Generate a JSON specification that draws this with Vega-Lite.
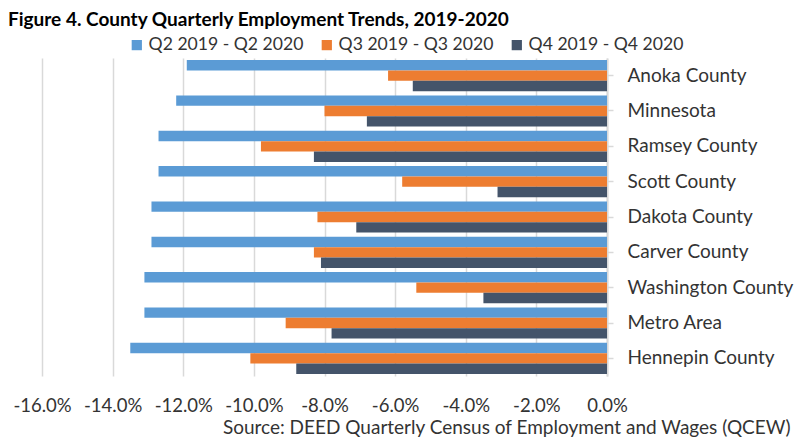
{
  "$schema": "https://vega.github.io/schema/vega-lite/v6.json",
  "width": 565,
  "height": 318,
  "autosize": {"type": "none"},
  "padding": {"left": 42, "top": 58, "right": 192, "bottom": 65},
  "background": "white",
  "config": {
    "locale": {"number": {"decimal": ".", "thousands": ",", "grouping": [3], "currency": ["$", ""], "minus": "-"}},
    "view": {"stroke": null},
    "font": "Lato"
  },
  "title": {
    "text": "Figure 4. County Quarterly Employment Trends, 2019-2020",
    "anchor": "start",
    "frame": "group",
    "dx": -34,
    "offset": -9,
    "baseline": "alphabetic",
    "font": "Lato",
    "fontSize": 19,
    "fontWeight": "bold",
    "color": "#000000"
  },
  "data": {
    "values": [
      {"area": "Anoka County", "period": "Q2 2019 - Q2 2020", "change": -0.119},
      {"area": "Anoka County", "period": "Q3 2019 - Q3 2020", "change": -0.062},
      {"area": "Anoka County", "period": "Q4 2019 - Q4 2020", "change": -0.055},
      {"area": "Minnesota", "period": "Q2 2019 - Q2 2020", "change": -0.122},
      {"area": "Minnesota", "period": "Q3 2019 - Q3 2020", "change": -0.080},
      {"area": "Minnesota", "period": "Q4 2019 - Q4 2020", "change": -0.068},
      {"area": "Ramsey County", "period": "Q2 2019 - Q2 2020", "change": -0.127},
      {"area": "Ramsey County", "period": "Q3 2019 - Q3 2020", "change": -0.098},
      {"area": "Ramsey County", "period": "Q4 2019 - Q4 2020", "change": -0.083},
      {"area": "Scott County", "period": "Q2 2019 - Q2 2020", "change": -0.127},
      {"area": "Scott County", "period": "Q3 2019 - Q3 2020", "change": -0.058},
      {"area": "Scott County", "period": "Q4 2019 - Q4 2020", "change": -0.031},
      {"area": "Dakota County", "period": "Q2 2019 - Q2 2020", "change": -0.129},
      {"area": "Dakota County", "period": "Q3 2019 - Q3 2020", "change": -0.082},
      {"area": "Dakota County", "period": "Q4 2019 - Q4 2020", "change": -0.071},
      {"area": "Carver County", "period": "Q2 2019 - Q2 2020", "change": -0.129},
      {"area": "Carver County", "period": "Q3 2019 - Q3 2020", "change": -0.083},
      {"area": "Carver County", "period": "Q4 2019 - Q4 2020", "change": -0.081},
      {"area": "Washington County", "period": "Q2 2019 - Q2 2020", "change": -0.131},
      {"area": "Washington County", "period": "Q3 2019 - Q3 2020", "change": -0.054},
      {"area": "Washington County", "period": "Q4 2019 - Q4 2020", "change": -0.035},
      {"area": "Metro Area", "period": "Q2 2019 - Q2 2020", "change": -0.131},
      {"area": "Metro Area", "period": "Q3 2019 - Q3 2020", "change": -0.091},
      {"area": "Metro Area", "period": "Q4 2019 - Q4 2020", "change": -0.078},
      {"area": "Hennepin County", "period": "Q2 2019 - Q2 2020", "change": -0.135},
      {"area": "Hennepin County", "period": "Q3 2019 - Q3 2020", "change": -0.101},
      {"area": "Hennepin County", "period": "Q4 2019 - Q4 2020", "change": -0.088}
    ]
  },
  "mark": {"type": "bar"},
  "encoding": {
    "x": {
      "field": "change",
      "type": "quantitative",
      "scale": {"domain": [-0.16, 0], "nice": false, "zero": true},
      "axis": {
        "values": [-0.16, -0.14, -0.12, -0.10, -0.08, -0.06, -0.04, -0.02, 0],
        "format": ".1%",
        "domain": false,
        "ticks": false,
        "tickSize": 0,
        "grid": true,
        "gridColor": "#d9d9d9",
        "gridWidth": 1.5,
        "labelFont": "Lato",
        "labelFontSize": 18.5,
        "labelColor": "#333333",
        "labelBaseline": "alphabetic",
        "labelPadding": 35,
        "labelFlush": false,
        "labelOverlap": false,
        "title": "Source: DEED Quarterly Census of Employment and Wages (QCEW)",
        "titleFont": "Lato",
        "titleFontSize": 19,
        "titleFontWeight": "normal",
        "titleColor": "#333333",
        "titleAlign": "right",
        "titleBaseline": "alphabetic",
        "titleX": 748,
        "titleY": 57
      }
    },
    "y": {
      "field": "area",
      "type": "nominal",
      "sort": ["Anoka County", "Minnesota", "Ramsey County", "Scott County", "Dakota County", "Carver County", "Washington County", "Metro Area", "Hennepin County"],
      "scale": {"paddingInner": 0.12, "paddingOuter": 0.06},
      "axis": {
        "orient": "right",
        "title": null,
        "domain": true,
        "domainColor": "#d9d9d9",
        "domainWidth": 2,
        "ticks": true,
        "tickColor": "#d9d9d9",
        "tickWidth": 1.5,
        "tickSize": 6,
        "labelPadding": 14,
        "labelFont": "Lato",
        "labelFontSize": 19,
        "labelColor": "#333333",
        "labelAlign": "left",
        "labelBaseline": "middle",
        "labelLimit": 0,
        "grid": false
      }
    },
    "yOffset": {
      "field": "period",
      "type": "nominal",
      "sort": ["Q2 2019 - Q2 2020", "Q3 2019 - Q3 2020", "Q4 2019 - Q4 2020"],
      "scale": {"paddingInner": 0, "paddingOuter": 0}
    },
    "color": {
      "field": "period",
      "type": "nominal",
      "sort": ["Q2 2019 - Q2 2020", "Q3 2019 - Q3 2020", "Q4 2019 - Q4 2020"],
      "scale": {"domain": ["Q2 2019 - Q2 2020", "Q3 2019 - Q3 2020", "Q4 2019 - Q4 2020"], "range": ["#5b9bd5", "#ed7d31", "#44546a"]},
      "legend": {
        "title": null,
        "orient": "none",
        "direction": "horizontal",
        "legendX": 86,
        "legendY": -22,
        "padding": 0,
        "symbolType": "square",
        "symbolSize": 105,
        "symbolStrokeWidth": 0,
        "symbolOpacity": 1,
        "labelOffset": 3,
        "columnPadding": 14,
        "labelFont": "Lato",
        "labelFontSize": 17.6,
        "labelColor": "#333333",
        "labelLimit": 0
      }
    }
  }
}
